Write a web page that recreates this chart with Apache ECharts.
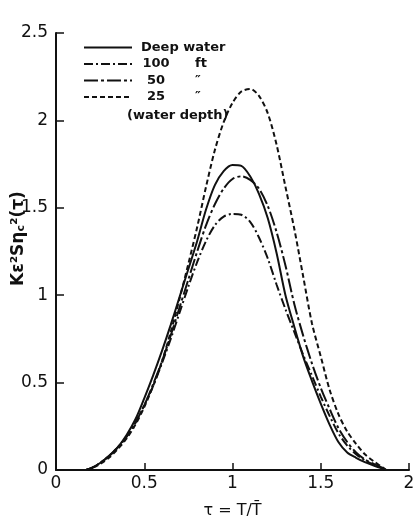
<!DOCTYPE html>
<html>
<head>
<meta charset="utf-8">
<script src="https://cdn.jsdelivr.net/npm/echarts@6/dist/echarts.min.js"></script>
<style>
  html, body { margin: 0; padding: 0; background: #fff; }
  #main { width: 420px; height: 524px; }
</style>
</head>
<body>
<div id="main"></div>
<script>
// tau = T / Tbar
var tau = [0.17, 0.2, 0.25, 0.3, 0.35, 0.4, 0.45, 0.5, 0.55, 0.6, 0.65, 0.7, 0.75, 0.8, 0.85, 0.9, 0.95, 1.0, 1.05, 1.1, 1.15, 1.2, 1.25, 1.3, 1.35, 1.4, 1.45, 1.5, 1.55, 1.6, 1.65, 1.7, 1.75, 1.8, 1.85, 1.87];

var deepWater = [0, 0.01, 0.04, 0.08, 0.13, 0.2, 0.29, 0.41, 0.54, 0.68, 0.83, 0.99, 1.15, 1.31, 1.49, 1.63, 1.71, 1.745, 1.74, 1.68, 1.58, 1.44, 1.24, 1.0, 0.82, 0.65, 0.51, 0.38, 0.26, 0.16, 0.1, 0.07, 0.045, 0.025, 0.008, 0];
var depth100 = [0, 0.01, 0.04, 0.08, 0.13, 0.19, 0.27, 0.37, 0.48, 0.61, 0.75, 0.9, 1.05, 1.19, 1.31, 1.4, 1.45, 1.465, 1.46, 1.42, 1.33, 1.21, 1.06, 0.92, 0.79, 0.66, 0.54, 0.42, 0.31, 0.21, 0.14, 0.09, 0.055, 0.03, 0.01, 0];
var depth50 = [0, 0.01, 0.04, 0.08, 0.13, 0.19, 0.27, 0.37, 0.49, 0.62, 0.77, 0.93, 1.09, 1.25, 1.4, 1.52, 1.61, 1.665, 1.68, 1.66, 1.61, 1.51, 1.36, 1.17, 0.95, 0.77, 0.61, 0.47, 0.35, 0.24, 0.16, 0.1, 0.06, 0.035, 0.012, 0];
var depth25 = [0, 0.01, 0.035, 0.07, 0.12, 0.18, 0.26, 0.36, 0.48, 0.62, 0.79, 0.98, 1.18, 1.39, 1.62, 1.83, 1.99, 2.1, 2.165, 2.18, 2.14, 2.04, 1.86, 1.62, 1.38, 1.11, 0.84, 0.65, 0.46, 0.32, 0.22, 0.15, 0.09, 0.05, 0.015, 0];

var seriesNames = ['Deep water', '100', '50', '25'];
var seriesUnits = ['', 'ft', '\u2033', '\u2033'];
var seriesValues = [deepWater, depth100, depth50, depth25];
var dashTypes = ['solid', [9, 3, 2, 3], [14, 3, 3, 3], [5, 3]];

var xTicks = [0, 0.5, 1, 1.5, 2];
var yTicks = [0, 0.5, 1, 1.5, 2, 2.5];

var font = 'DejaVu Sans';

function pairs(vals) {
  return tau.map(function (t, i) { return [t, vals[i]]; });
}

var chart = echarts.init(document.getElementById('main'));

var series = seriesNames.map(function (name, i) {
  return {
    name: name,
    type: 'line',
    data: pairs(seriesValues[i]),
    smooth: 0.3,
    symbol: 'none',
    lineStyle: { color: '#111', width: 2, type: dashTypes[i] },
    itemStyle: { color: '#111' }
  };
});

var option = {
  backgroundColor: '#fff',
  animation: false,
  grid: { left: 56, right: 11, top: 33, bottom: 49 },
  legend: {
    orient: 'vertical',
    left: 78,
    top: 36,
    itemWidth: 48,
    itemHeight: 12,
    itemGap: 3.5,
    data: seriesNames,
    itemStyle: { opacity: 0 },
    formatter: function (name) {
      var i = seriesNames.indexOf(name);
      if (i === 0) return '{w|' + name + '}';
      return '{n|' + name + '}{u|' + seriesUnits[i] + '}';
    },
    textStyle: {
      color: '#111',
      fontFamily: font,
      fontWeight: 'bold',
      fontSize: 13,
      rich: {
        w: { fontFamily: font, fontWeight: 'bold', fontSize: 13, color: '#111', padding: [0, 0, 0, 4] },
        n: { fontFamily: font, fontWeight: 'bold', fontSize: 13, color: '#111', width: 30, align: 'center', padding: [0, 0, 0, 4] },
        u: { fontFamily: font, fontWeight: 'bold', fontSize: 13, color: '#111', padding: [0, 0, 0, 24] }
      }
    }
  },
  xAxis: {
    type: 'value',
    min: 0,
    max: 2,
    interval: 0.5,
    name: '\u03c4 = T/T\u0304',
    nameLocation: 'middle',
    nameGap: 33,
    nameTextStyle: { fontFamily: font, fontSize: 16, color: '#111' },
    splitLine: { show: false },
    axisLine: { lineStyle: { color: '#111', width: 2 } },
    axisTick: { inside: true, length: 7, lineStyle: { color: '#111', width: 1.5 } },
    axisLabel: {
      margin: 5,
      fontFamily: font,
      fontSize: 17,
      color: '#111',
      formatter: function (v) { return xTicks.indexOf(v) >= 0 ? String(v) : ''; }
    }
  },
  yAxis: {
    type: 'value',
    min: 0,
    max: 2.5,
    interval: 0.5,
    splitLine: { show: false },
    axisLine: { show: true, lineStyle: { color: '#111', width: 2 } },
    axisTick: { show: true, inside: true, length: 8, lineStyle: { color: '#111', width: 1.5 } },
    axisLabel: {
      margin: 8,
      fontFamily: font,
      fontSize: 17,
      color: '#111',
      formatter: function (v) { return yTicks.indexOf(v) >= 0 ? String(v) : ''; }
    }
  },
  graphic: [
    {
      type: 'text',
      left: 127,
      top: 109,
      style: {
        text: '(water depth)',
        fontFamily: font,
        fontWeight: 'bold',
        fontSize: 13,
        fill: '#111'
      }
    },
    {
      type: 'text',
      x: 10,
      y: 286,
      rotation: Math.PI / 2,
      style: {
        text: '{a|K\u03b5\u00b2S\u03b7}{s|c}{a|\u00b2(\u03c4)}',
        rich: {
          a: { fontFamily: font, fontWeight: 'bold', fontSize: 17, fill: '#111' },
          s: { fontFamily: font, fontWeight: 'bold', fontSize: 11, fill: '#111', padding: [6, 0, 0, 0] }
        }
      }
    }
  ],
  series: series
};

chart.setOption(option);
</script>
</body>
</html>
